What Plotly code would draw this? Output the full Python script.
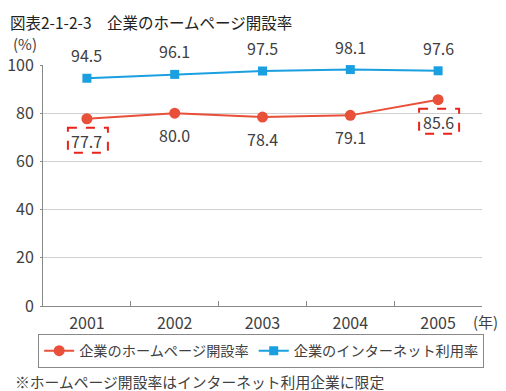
import plotly.graph_objects as go

years = ["2001", "2002", "2003", "2004", "2005"]
homepage = [77.7, 80.0, 78.4, 79.1, 85.6]
internet = [94.5, 96.1, 97.5, 98.1, 97.6]
y_ticks = [0, 20, 40, 60, 80, 100]
boxed_years = ["2001", "2005"]

RED = "#e8503a"
BLUE = "#1a9fe0"
TXT = "#404040"
FONT = "Noto Sans CJK JP"

# page body has an 8px default margin; figure is sized to fit the window
W, H = 498, 383

fig = go.Figure()
fig.add_trace(go.Scatter(
    x=years, y=homepage, mode="lines+markers", name="企業のホームページ開設率",
    line=dict(color=RED, width=2), marker=dict(symbol="circle", size=11, color=RED)))
fig.add_trace(go.Scatter(
    x=years, y=internet, mode="lines+markers", name="企業のインターネット利用率",
    line=dict(color=BLUE, width=2), marker=dict(symbol="square", size=9, color=BLUE)))

ann = []
for i, v in enumerate(internet):
    ann.append(dict(x=i, y=v, xref="x", yref="y", text=f"{v:.1f}", showarrow=False,
                    xanchor="center", yanchor="middle",
                    yshift=23, font=dict(size=16, color=TXT, family=FONT)))
for i, v in enumerate(homepage):
    ann.append(dict(x=i, y=v, xref="x", yref="y", text=f"{v:.1f}", showarrow=False,
                    xanchor="center", yanchor="middle",
                    yshift=-22, font=dict(size=16, color=TXT, family=FONT)))

shapes = []
for i, (x, v) in enumerate(zip(years, homepage)):
    if x in boxed_years:
        shapes.append(dict(type="rect", xref="x", yref="y", xsizemode="pixel", ysizemode="pixel",
                           xanchor=i, yanchor=v, x0=-19, x1=21, y0=-9, y1=-34,
                           line=dict(color="#e8231a", width=2, dash="dash")))

ann.append(dict(x=-0.041, y=1.091, xref="paper", yref="paper", text="(%)", showarrow=False,
                xanchor="center", yanchor="middle",
                font=dict(size=15, color=TXT, family=FONT)))
ann.append(dict(x=1.009, y=-0.066, xref="paper", yref="paper", text="(年)", showarrow=False,
                xanchor="center", yanchor="middle",
                font=dict(size=15, color=TXT, family=FONT)))
ann.append(dict(x=-0.068, y=-0.315, xref="paper", yref="paper", xanchor="left", yanchor="middle",
                text="※ホームページ開設率はインターネット利用企業に限定", showarrow=False,
                font=dict(size=14.8, color=TXT, family=FONT)))
ann.append(dict(x=0, y=1 - 1.5 / H, xref="paper", yref="paper", xanchor="left", yanchor="top",
                text="図表2-1-2-3　企業のホームページ開設率", showarrow=False,
                font=dict(size=15.5, color="#222", family=FONT)))
ann[-1].update(xref="paper", x=-35 / 439, yref="paper", y=(298 - 1.5) / 241 + 0.0)

fig.update_layout(
    width=W, height=H,
    margin=dict(l=35, r=24, t=57, b=85),
    paper_bgcolor="white", plot_bgcolor="white",
    font=dict(family=FONT, color=TXT, size=14),
    xaxis=dict(type="category", categoryorder="array", categoryarray=years, range=[-0.5, 4.5],
               tickson="boundaries", ticks="inside", ticklen=5, automargin=False,
               tickcolor="#888", showline=True, linecolor="#888", linewidth=1,
               showgrid=False, tickfont=dict(size=16, color=TXT), ticklabelstandoff=3),
    yaxis=dict(range=[0, 100], tickvals=y_ticks, showline=True, linecolor="#888", linewidth=1,
               showgrid=True, gridcolor="#d0d0d0", gridwidth=1, zeroline=False,
               ticks="outside", ticklen=2, tickcolor="#888", automargin=False,
               ticklabelstandoff=3, tickfont=dict(size=16, color=TXT)),
    legend=dict(orientation="h", x=-0.011, y=-0.116, xanchor="left", yanchor="top",
                bordercolor="#888", borderwidth=1, font=dict(size=14.2, color=TXT, family=FONT),
                itemwidth=30, tracegroupgap=0),
    annotations=ann, shapes=shapes, showlegend=True,
)

fig.write_html("out.html")
